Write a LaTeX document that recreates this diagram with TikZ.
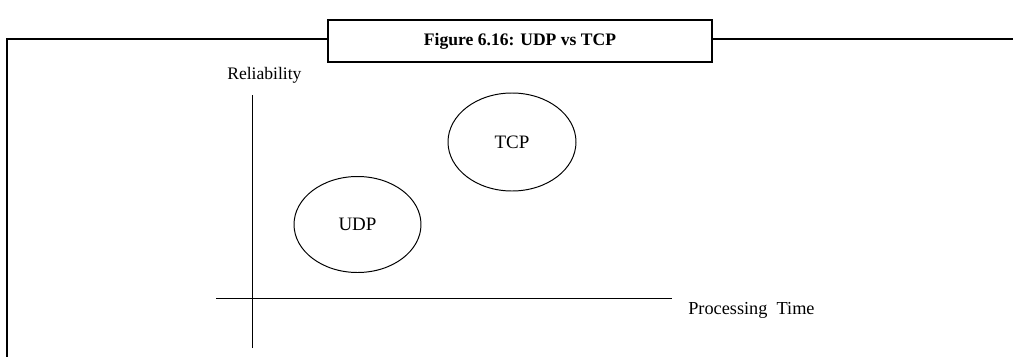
\documentclass[tikz,border=0pt]{standalone}
\usepackage{fontspec}
\setmainfont{Liberation Serif}
\usetikzlibrary{shapes.geometric}

\tikzset{
  frameline/.style={line width=1.4pt},
  axisline/.style={line width=0.7pt},
  blob/.style={draw, ellipse, line width=0.7pt, font=\fontsize{13.5}{16}\selectfont},
  axislabel/.style={font=\fontsize{12.5}{15}\selectfont, inner sep=0pt}
}

\begin{document}
\begin{tikzpicture}[x=0.025cm,y=-0.025cm]
\useasboundingbox (0,0) rectangle (1013,356);
% frame and caption box
\node[draw, frameline, minimum width=384*0.025cm, minimum height=42*0.025cm, font=\fontsize{12.5}{15}\bfseries\selectfont] (cap) at (520,41) {Figure 6.16: UDP vs TCP};
\coordinate (fl) at (7,39);
\coordinate (fr) at (1013,39);
\coordinate (fb) at (7,357);
\draw [frameline] (fb)--(fl)--(cap.west |- fl);
\draw [frameline] (cap.east |- fr)--(fr);
% axes
\coordinate (ytop) at (252,95);
\coordinate (ybot) at (252,348);
\coordinate (xleft) at (216,298);
\coordinate (xright) at (672,298);
\draw [axisline] (ybot)--(ytop);
\draw [axisline] (xleft)--(xright);
\node[axislabel, anchor=west] (rel) at (227,75) {Reliability};
\node[axislabel, anchor=west, font=\fontsize{13}{15}\selectfont] (ptime) at (688,310) {Processing\ \ Time};
% protocols
\node[blob, minimum width=127*0.025cm, minimum height=96*0.025cm] (udp) at (357.5,224.5) {UDP};
\node[blob, minimum width=128*0.025cm, minimum height=98*0.025cm] (tcp) at (512,142) {TCP};
\end{tikzpicture}
\end{document}
